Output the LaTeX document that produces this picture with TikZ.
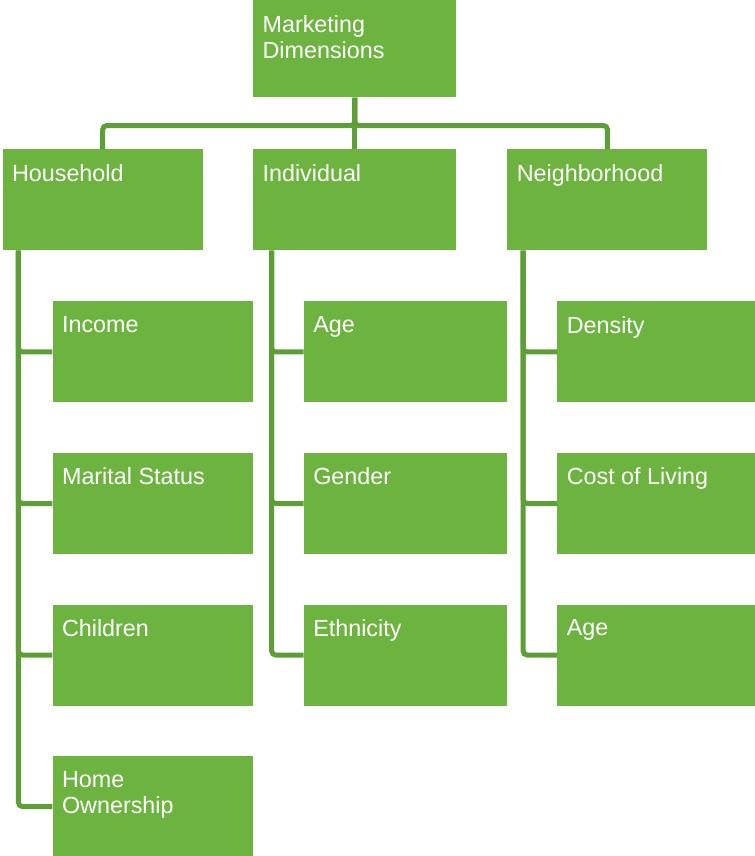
\documentclass[tikz,border=0pt]{standalone}
\usepackage{fontspec}
\setmainfont{Liberation Sans}
\usetikzlibrary{positioning}

\definecolor{boxgreen}{HTML}{6DB33F}
\definecolor{linkgreen}{HTML}{5E9E36}

\begin{document}
\begin{tikzpicture}[
        node distance=37.5pt and 37.5pt,
        box/.style={fill=boxgreen, inner sep=0pt, minimum width=150pt, minimum height=75.75pt},
        widebox/.style={box, minimum width=152.25pt},
        topbox/.style={widebox, minimum height=72.75pt},
        txt/.style={anchor=north west, inner sep=0pt, text=white, align=left,
                    font=\fontsize{17.5}{20}\selectfont},
        link/.style={draw=linkgreen, line width=3.75pt, rounded corners=3pt}
    ]
    \useasboundingbox (0,0) rectangle (566.25pt,-642pt);

    % top of the tree
    \node[topbox, anchor=north west] (Dims) at (189.75pt,0) {};

    % first level
    \node[widebox, anchor=north west] (Indiv) at (189.75pt,-111.75pt) {};
    \node[box, left=37.5pt of Indiv] (House) {};
    \node[box, right=38pt of Indiv] (Neigh) {};

    % household items
    \node[box, below right=38pt and 37.5pt of House.south west, anchor=north west] (Income) {};
    \node[box, below=of Income] (Marital) {};
    \node[box, below=of Marital] (Children) {};
    \node[box, below=of Children] (Home) {};

    % individual items
    \node[widebox, below right=38pt and 38pt of Indiv.south west, anchor=north west] (AgeI) {};
    \node[widebox, below=of AgeI] (Gender) {};
    \node[widebox, below=of Gender] (Ethnic) {};

    % neighborhood items
    \node[box, below right=38pt and 37.5pt of Neigh.south west, anchor=north west] (Density) {};
    \node[box, below=of Density] (Cost) {};
    \node[box, below=of Cost] (AgeN) {};

    % labels
    \foreach \n/\t in {Dims/{Marketing\\Dimensions}, House/Household, Indiv/Individual,
                       Neigh/Neighborhood, Income/Income, Marital/Marital Status,
                       Children/Children, Home/{Home\\Ownership}, AgeI/Age,
                       Gender/Gender, Ethnic/Ethnicity, Density/Density,
                       Cost/Cost of Living, AgeN/Age}
        \node[txt] (\n T) at ([xshift=7pt, yshift=-11.25pt]\n.north west) {\t};

    % connectors
    \begin{scope}[on background layer/.try]
    \draw[link] (Dims.south) -- ++(0,-21pt) -| (House.north);
    \draw[link] (Dims.south) -- ++(0,-21pt) -| (Neigh.north);
    \draw[link] (Dims.south) -- (Indiv.north);

    \draw[link] ([xshift=12pt]House.south west) |- (Home.west);
    \foreach \c in {Income, Marital, Children}
        \draw[link] ([xshift=12pt]House.south west) |- (\c.west);

    \draw[link] ([xshift=14pt]Indiv.south west) |- (Ethnic.west);
    \foreach \c in {AgeI, Gender}
        \draw[link] ([xshift=14pt]Indiv.south west) |- (\c.west);

    \draw[link] ([xshift=12pt]Neigh.south west) |- (AgeN.west);
    \foreach \c in {Density, Cost}
        \draw[link] ([xshift=12pt]Neigh.south west) |- (\c.west);
    \end{scope}

\end{tikzpicture}
\end{document}
